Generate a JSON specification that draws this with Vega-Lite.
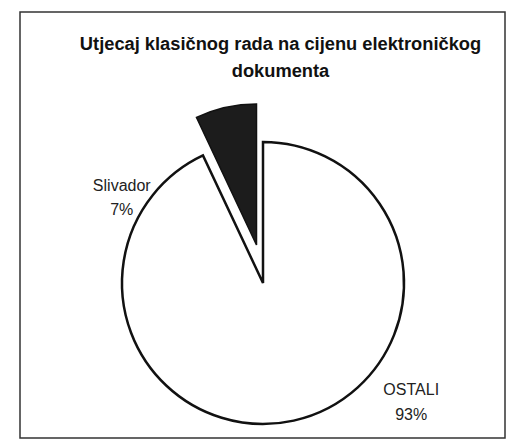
{
  "$schema": "https://vega.github.io/schema/vega-lite/v6.json",
  "width": 485,
  "height": 426,
  "autosize": {"type": "none"},
  "padding": {"left": 20, "top": 12, "right": 3, "bottom": 3},
  "background": "white",
  "view": {"stroke": "#333333", "strokeWidth": 1.5},
  "config": {"view": {"stroke": "#333333", "strokeWidth": 1.5}},
  "title": {
    "text": ["Utjecaj klasičnog rada na cijenu elektroničkog", "dokumenta"],
    "font": "Liberation Sans",
    "fontSize": 18.3,
    "fontWeight": "bold",
    "color": "#111111",
    "anchor": "middle",
    "frame": "group",
    "offset": -69,
    "dx": 18,
    "lineHeight": 27
  },
  "data": {
    "values": [
      {"name": "OSTALI", "value": 93, "label": "OSTALI\n93%"},
      {"name": "Slivador", "value": 7, "label": "Slivador\n7%"}
    ]
  },
  "transform": [
    {"stack": "value", "groupby": [], "sort": [{"field": "name", "order": "ascending"}], "as": ["v0", "v1"]},
    {"calculate": "(datum.v0 + datum.v1) / 2", "as": "mid"}
  ],
  "layer": [
    {
      "transform": [{"filter": "datum.name == 'OSTALI'"}],
      "mark": {"type": "arc", "radius": 141, "fill": "white", "stroke": "#111111", "strokeWidth": 2.5, "yOffset": 58, "xOffset": 0.5},
      "encoding": {
        "theta": {"field": "v0", "type": "quantitative", "scale": {"domain": [0, 100]}},
        "theta2": {"field": "v1"}
      }
    },
    {
      "transform": [{"filter": "datum.name == 'Slivador'"}],
      "mark": {"type": "arc", "radius": 141, "fill": "#1c1c1c", "stroke": "#111111", "strokeWidth": 1.5, "yOffset": 20, "xOffset": -6},
      "encoding": {
        "theta": {"field": "v0", "type": "quantitative", "scale": {"domain": [0, 100]}},
        "theta2": {"field": "v1"}
      }
    },
    {
      "transform": [{"filter": "datum.name == 'Slivador'"}],
      "mark": {"type": "text", "radius": 150, "font": "Liberation Sans", "fontSize": 16, "color": "#222222", "lineBreak": "\n", "lineHeight": 24, "align": "center", "baseline": "middle", "yOffset": 58, "dx": -108, "dy": 49},
      "encoding": {
        "theta": {"field": "mid", "type": "quantitative", "scale": {"domain": [0, 100]}},
        "text": {"field": "label"}
      }
    },
    {
      "transform": [{"filter": "datum.name == 'OSTALI'"}],
      "mark": {"type": "text", "radius": 150, "font": "Liberation Sans", "fontSize": 16, "color": "#222222", "lineBreak": "\n", "lineHeight": 25, "align": "center", "baseline": "middle", "yOffset": 58, "dx": 116, "dy": -39},
      "encoding": {
        "theta": {"field": "mid", "type": "quantitative", "scale": {"domain": [0, 100]}},
        "text": {"field": "label"}
      }
    }
  ]
}
